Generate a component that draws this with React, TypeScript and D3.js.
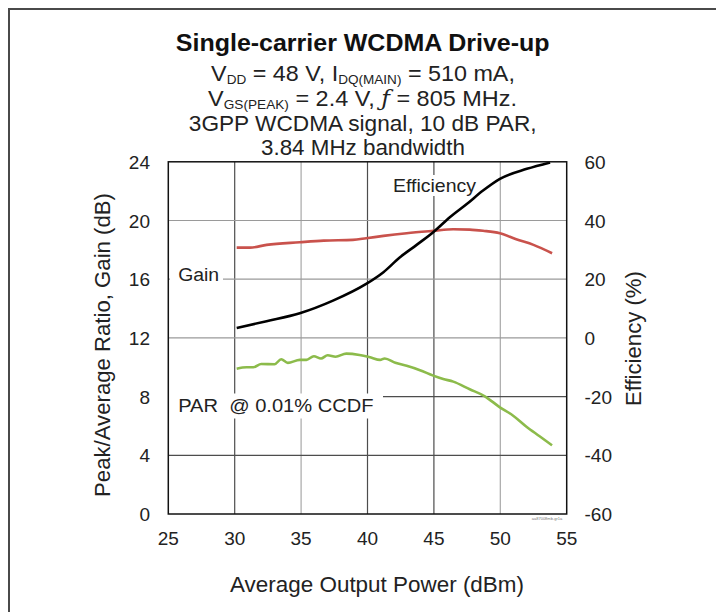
import React, { useEffect, useRef } from 'react';
import * as d3 from 'd3';

// Average output power (dBm) with gain (dB)
const gainX = [30.15, 31.15, 32.4, 34.9, 36.7, 38.9, 39.9, 41.2, 42.95, 44.95, 46.46, 47.7, 48.7, 49.97, 51.2, 52.5, 53.9];
const gainY = [18.15, 18.15, 18.34, 18.52, 18.63, 18.68, 18.79, 18.95, 19.13, 19.29, 19.4, 19.38, 19.3, 19.13, 18.72, 18.34, 17.77];

// Drain efficiency (%) on the right axis
const effX = [30.15, 32.4, 34.9, 37.4, 39.9, 41.2, 42.4, 43.7, 44.95, 46.2, 47.5, 48.7, 49.97, 52.0, 53.75];
const effY = [3.4, 5.7, 8.4, 12.7, 18.4, 22.4, 27.3, 31.7, 36.0, 41.1, 45.7, 50.2, 54.2, 57.6, 59.8];

// PAR @ 0.01% CCDF (dB)
const parX = [30.15, 30.9, 31.4, 32.0, 33.0, 33.5, 34.0, 34.9, 35.4, 35.96, 36.5, 37.0, 37.6, 38.4, 39.4, 40.2, 40.95, 41.3, 42.1, 42.95, 43.95, 44.95, 45.7, 46.46, 47.7, 48.8, 49.97, 50.97, 51.97, 52.96, 53.9];
const parY = [9.9, 10.0, 10.0, 10.22, 10.2, 10.55, 10.3, 10.5, 10.5, 10.75, 10.6, 10.82, 10.72, 10.93, 10.84, 10.68, 10.5, 10.6, 10.3, 10.1, 9.8, 9.43, 9.2, 9.02, 8.5, 8.04, 7.27, 6.7, 5.95, 5.3, 4.68];

const xTicks = [25, 30, 35, 40, 45, 50, 55];
const leftTicks = [0, 4, 8, 12, 16, 20, 24];
const rightTicks = [-60, -40, -20, 0, 20, 40, 60];

const FONT = '"Liberation Sans", Arial, Helvetica, sans-serif';

type Sel = d3.Selection<any, unknown, null, undefined>;

// text in a group, stretched sideways to a target width
const fitText = (parent: Sel, x: number, y: number, width: number, size: number, build: (t: Sel) => void, rotate = 0, anchor = 'middle') => {
  const g = parent.append('g');
  const t = g.append('text')
    .attr('font-family', FONT).attr('font-size', size).attr('fill', '#222')
    .attr('text-anchor', anchor).attr('xml:space', 'preserve');
  build(t);
  const w = (t.node() as SVGTextElement).getBBox().width || width;
  g.attr('transform', `translate(${x},${y}) rotate(${rotate}) scale(${width / w},1)`);
  return t;
};

const App = () => {
  const ref = useRef<SVGSVGElement>(null);

  useEffect(() => {
    const svg = d3.select(ref.current) as Sel;
    svg.selectAll('*').remove();

    const left = 168.3, right = 566.7, top = 161.8, bottom = 514;

    const x = d3.scaleLinear().domain([25, 55]).range([left, right]);
    const yL = d3.scaleLinear().domain([0, 24]).range([bottom, top]);
    const yR = d3.scaleLinear().domain([-60, 60]).range([bottom, top]);

    // outer frame
    svg.append('path')
      .attr('d', `M9,612 L9,9 L716,9`)
      .attr('fill', 'none')
      .attr('stroke', '#4a4a4a')
      .attr('stroke-width', 2);

    // title block
    fitText(svg, 362.7, 50.5, 374, 23, t => t.attr('font-weight', 'bold').attr('fill', '#111').text('Single-carrier WCDMA Drive-up'));
    fitText(svg, 363, 80.5, 304, 21.5, t => {
      t.append('tspan').text('V');
      t.append('tspan').attr('font-size', 12.5).attr('dy', 3).text('DD');
      t.append('tspan').attr('dy', -3).text(' = 48 V, I');
      t.append('tspan').attr('font-size', 12.5).attr('dy', 3).text('DQ(MAIN)');
      t.append('tspan').attr('dy', -3).text(' = 510 mA,');
    });
    fitText(svg, 362.5, 106, 309, 21.5, t => {
      t.append('tspan').text('V');
      t.append('tspan').attr('font-size', 12.5).attr('dy', 3).text('GS(PEAK)');
      t.append('tspan').attr('dy', -3).text(' = 2.4 V, ');
      t.append('tspan').attr('font-style', 'italic').attr('font-family', '"DejaVu Serif", serif').text('ƒ');
      t.append('tspan').text(' = 805 MHz.');
    });
    fitText(svg, 362.7, 130.5, 348, 21.5, t => t.text('3GPP WCDMA signal, 10 dB PAR,'));
    fitText(svg, 363, 155, 204, 21.5, t => t.text('3.84 MHz bandwidth'));

    // grid
    const vColor = (v: number) => (v === 35 || v === 50 ? '#a8a8a8' : '#4d4d4d');
    const hColor = (v: number) => (v >= 12 ? '#9a9a9a' : '#4d4d4d');

    svg.append('g').selectAll('line')
      .data(xTicks.slice(1, -1))
      .enter()
      .append('line')
      .attr('x1', d => x(d)).attr('x2', d => x(d))
      .attr('y1', top).attr('y2', bottom)
      .attr('stroke', d => vColor(d))
      .attr('stroke-width', 1.2);

    svg.append('g').selectAll('line')
      .data(leftTicks.slice(1, -1))
      .enter()
      .append('line')
      .attr('x1', left).attr('x2', right)
      .attr('y1', d => yL(d)).attr('y2', d => yL(d))
      .attr('stroke', d => hColor(d))
      .attr('stroke-width', 1.2);

    // in-plot labels, white boxes knock out the grid behind them
    const label = (tx: number, ty: number, w: number, s: string, box: [number, number, number, number]) => {
      svg.append('rect').attr('x', box[0]).attr('y', box[1]).attr('width', box[2]).attr('height', box[3]).attr('fill', '#fff');
      fitText(svg, tx, ty, w, 19, t => t.text(s), 0, 'start');
    };
    label(178.2, 280.5, 41, 'Gain', [170, 265, 53, 20]);
    label(178.2, 411.7, 195.5, 'PAR  @ 0.01% CCDF', [169, 393.5, 214, 25]);
    label(392.9, 192, 83.6, 'Efficiency', [389, 175, 91, 21]);

    // curves
    const line = (xs: number[], ys: number[], sy: d3.ScaleLinear<number, number>) =>
      d3.line<number>().x((_, i) => x(xs[i])).y((_, i) => sy(ys[i])).curve(d3.curveMonotoneX)(xs);

    svg.append('path').attr('d', line(gainX, gainY, yL))
      .attr('fill', 'none').attr('stroke', '#c9524c').attr('stroke-width', 2.6);
    svg.append('path').attr('d', line(effX, effY, yR))
      .attr('fill', 'none').attr('stroke', '#000').attr('stroke-width', 2.6);
    svg.append('path').attr('d', line(parX, parY, yL))
      .attr('fill', 'none').attr('stroke', '#8cbb4b').attr('stroke-width', 2.6);

    // plot frame
    svg.append('rect')
      .attr('x', left).attr('y', top)
      .attr('width', right - left).attr('height', bottom - top)
      .attr('fill', 'none').attr('stroke', '#111').attr('stroke-width', 1.5);

    // tick labels
    const ticks = svg.append('g').attr('font-family', FONT).attr('font-size', 19).attr('fill', '#222');
    ticks.selectAll('text.x')
      .data(xTicks).enter().append('text')
      .attr('x', d => x(d)).attr('y', 545)
      .attr('text-anchor', 'middle')
      .text(d => d);
    ticks.selectAll('text.l')
      .data(leftTicks).enter().append('text')
      .attr('x', 150).attr('y', d => yL(d) + 7)
      .attr('text-anchor', 'end')
      .text(d => d);
    ticks.selectAll('text.r')
      .data(rightTicks).enter().append('text')
      .attr('x', 584.5).attr('y', d => yR(d) + 7)
      .attr('text-anchor', 'start')
      .text(d => d);

    // axis titles
    fitText(svg, 377, 592, 294, 22, t => t.text('Average Output Power (dBm)'));
    fitText(svg, 109.5, 345, 304, 22, t => t.text('Peak/Average Ratio, Gain (dB)'), -90);
    fitText(svg, 641, 338.6, 135, 22, t => t.text('Efficiency (%)'), -90);

    // figure code
    svg.append('text')
      .attr('x', 547).attr('y', 520)
      .attr('text-anchor', 'middle')
      .attr('font-family', FONT).attr('font-size', 4).attr('fill', '#777')
      .text('aa87008mb-gr1a');
  }, []);

  return (
    <svg ref={ref} width={716} height={612} style={{ position: 'absolute', left: 0, top: 0, background: '#fff' }} />
  );
};

export default App;
